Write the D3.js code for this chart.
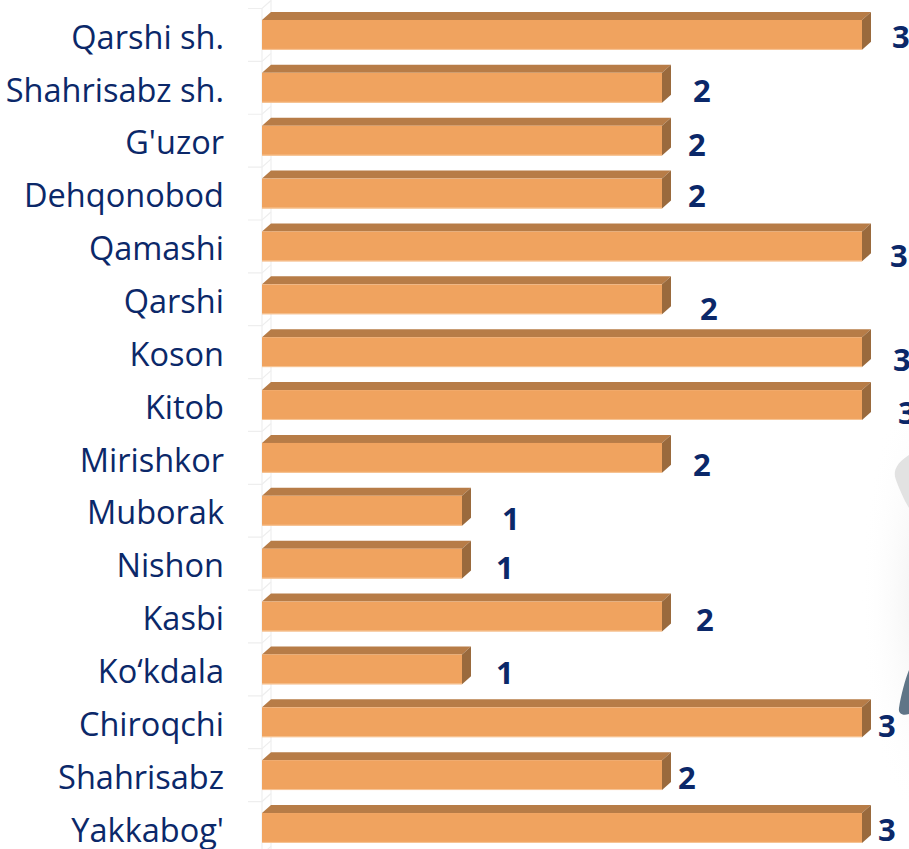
<!DOCTYPE html>
<html>
<head>
<meta charset="utf-8">
<script src="https://cdn.jsdelivr.net/npm/d3@7"></script>
<style>
  html, body { margin: 0; padding: 0; background: #ffffff; overflow: hidden; }
  svg { display: block; }
</style>
</head>
<body>
<svg id="chart" width="909" height="849"></svg>
<script>
// ---- data ----
const categories = ["Qarshi sh.", "Shahrisabz sh.", "G'uzor", "Dehqonobod", "Qamashi", "Qarshi",
  "Koson", "Kitob", "Mirishkor", "Muborak", "Nishon", "Kasbi", "Ko\u2018kdala", "Chiroqchi",
  "Shahrisabz", "Yakkabog'"];
const values = [3, 2, 2, 2, 3, 2, 3, 3, 2, 1, 1, 2, 1, 3, 2, 3];
const valueLabels = ["3", "2", "2", "2", "3", "2", "3", "3", "2", "1", "1", "2", "1", "3", "2", "3"];
// manual label nudges (dx from bar end, dy from bar centre), as placed in the original
const labelNudgeX = [30, 31, 26, 26, 28, 38, 31, 36, 31, 40, 34, 34, 34, 16, 16, 16];
const labelNudgeY = [2, 3, 4, 2, 9, 10, 8, 8, 7, 8, 4, 3, 3, 4, 3, 2];

// ---- layout ----
const W = 909, H = 849;
const svg = d3.select("#chart");
const navy = "#0b2869";
const depthX = 9, depthY = 8;

const x = d3.scaleLinear().domain([0, 3]).range([262, 862]);
const y = d3.scaleBand().domain(categories).range([8.5, 854.4]).paddingInner(0.435).paddingOuter(0.2175);

svg.append("rect").attr("width", W).attr("height", H).attr("fill", "#ffffff");

// decorative background figure at right edge
const defs = svg.append("defs");
const glow = defs.append("radialGradient").attr("id", "glow").attr("cx", "0.5").attr("cy", "0.5").attr("r", "0.5");
glow.append("stop").attr("offset", "0%").attr("stop-color", "#ececec");
glow.append("stop").attr("offset", "100%").attr("stop-color", "#ffffff").attr("stop-opacity", 0);
svg.append("ellipse").attr("cx", 930).attr("cy", 600).attr("rx", 70).attr("ry", 230).attr("fill", "url(#glow)");
svg.append("path").attr("d", "M909,455 C898,462 892,470 896,480 C899,488 904,500 909,508 Z").attr("fill", "#e2e2e2");
svg.append("path").attr("d", "M909,670 C905,680 901,695 899,708 C898,714 903,716 909,714 Z").attr("fill", "#5f7587");

// faint 3D wall / axis
const wall = svg.append("g").attr("stroke", "#eeeeee").attr("fill", "none").attr("stroke-width", 1.2);
wall.append("line").attr("x1", 262).attr("x2", 262).attr("y1", 8.5).attr("y2", H);
wall.append("line").attr("x1", 271).attr("x2", 271).attr("y1", 0).attr("y2", H);
const step = y.step();
const bounds = d3.range(categories.length + 1).map(i => 8.5 + i * step);
bounds.forEach(b => {
  wall.append("path").attr("d", `M248,${b} L262,${b} L${262 + depthX},${b - depthY}`);
});

// category labels
svg.append("g").selectAll("text").data(categories).join("text")
  .attr("x", 224)
  .attr("y", d => y(d) + y.bandwidth() / 2 + 2)
  .attr("dy", "0.36em")
  .attr("text-anchor", "end")
  .attr("font-family", "'Open Sans', 'Noto Sans', sans-serif")
  .attr("font-size", 32.5)
  .attr("fill", navy)
  .text(d => d);

// 3D bars
const bars = svg.append("g").selectAll("g").data(categories).join("g");
bars.each(function(d, i) {
  const g = d3.select(this);
  const x0 = x(0), x1 = x(values[i]);
  const yt = y(d), yb = y(d) + y.bandwidth();
  // top face
  g.append("path")
    .attr("d", `M${x0},${yt} L${x0 + depthX},${yt - depthY} L${x1 + depthX},${yt - depthY} L${x1},${yt} Z`)
    .attr("fill", "#b77c47");
  // side face
  g.append("path")
    .attr("d", `M${x1},${yt} L${x1 + depthX},${yt - depthY} L${x1 + depthX},${yb - depthY} L${x1},${yb} Z`)
    .attr("fill", "#9a6a3d");
  // front face
  g.append("rect")
    .attr("x", x0).attr("y", yt)
    .attr("width", x1 - x0).attr("height", y.bandwidth())
    .attr("fill", "#f0a35f");
  // light bottom edge
  g.append("line")
    .attr("x1", x0).attr("x2", x1).attr("y1", yb - 0.5).attr("y2", yb - 0.5)
    .attr("stroke", "#f7c697").attr("stroke-width", 1);
});

// value labels
svg.append("g").selectAll("text").data(categories).join("text")
  .attr("x", (d, i) => x(values[i]) + labelNudgeX[i])
  .attr("y", (d, i) => y(d) + y.bandwidth() / 2 + labelNudgeY[i])
  .attr("dy", "0.36em")
  .attr("font-family", "'Open Sans', 'Noto Sans', sans-serif")
  .attr("font-weight", "bold")
  .attr("font-size", 31)
  .attr("fill", navy)
  .text((d, i) => valueLabels[i]);
</script>
</body>
</html>
